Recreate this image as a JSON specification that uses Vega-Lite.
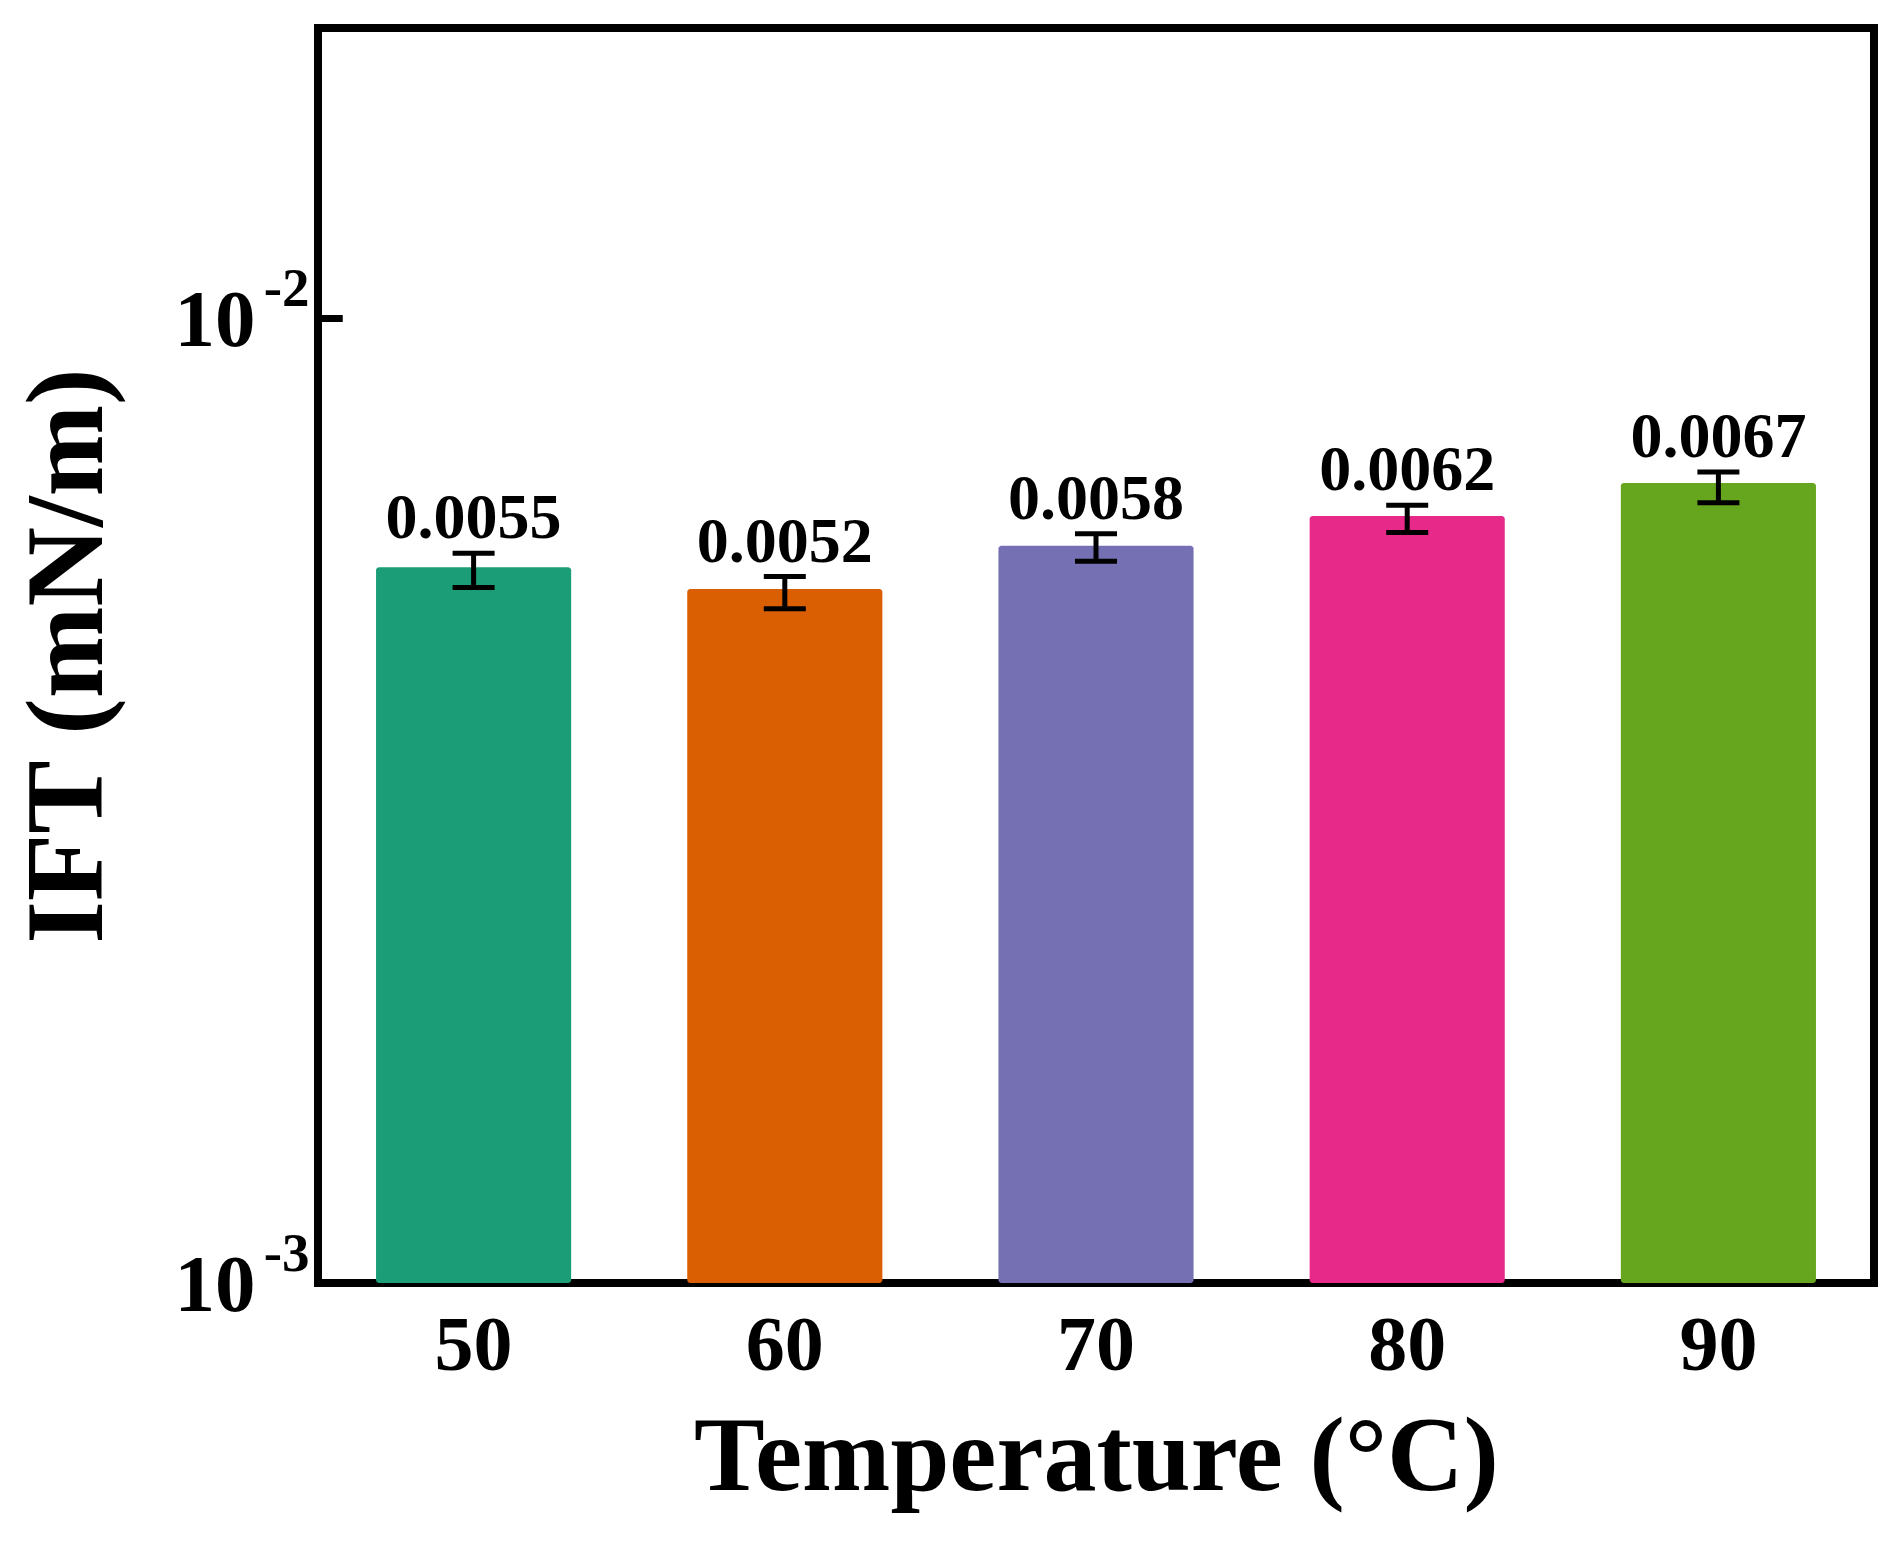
{
  "$schema": "https://vega.github.io/schema/vega-lite/v6.json",
  "autosize": "none",
  "width": 1556,
  "height": 1255,
  "padding": {"left": 318, "top": 28, "right": 26, "bottom": 262},
  "background": "white",
  "data": {
    "values": [
      {"T": "50", "v": 0.00552, "lo": 0.00526, "hi": 0.00571, "label": "0.0055"},
      {"T": "60", "v": 0.00524, "lo": 0.00500, "hi": 0.00540, "label": "0.0052"},
      {"T": "70", "v": 0.00581, "lo": 0.00560, "hi": 0.00598, "label": "0.0058"},
      {"T": "80", "v": 0.00624, "lo": 0.00600, "hi": 0.00640, "label": "0.0062"},
      {"T": "90", "v": 0.00675, "lo": 0.00644, "hi": 0.00693, "label": "0.0067"}
    ]
  },
  "config": {
    "view": {"stroke": "black", "strokeWidth": 8},
    "font": "Liberation Serif, Times New Roman, serif"
  },
  "resolve": {"axis": {"y": "independent"}},
  "encoding": {
    "x": {
      "field": "T",
      "type": "nominal",
      "sort": null,
      "scale": {"paddingInner": 0.373, "paddingOuter": 0.1865},
      "axis": {
        "title": "Temperature (°C)",
        "titleFont": "Liberation Serif, Times New Roman, serif",
        "titleFontWeight": "bold",
        "titleFontSize": 106,
        "titleColor": "black",
        "titleBaseline": "alphabetic",
        "titleY": 206,
        "labelAngle": 0,
        "labelFont": "Liberation Serif, Times New Roman, serif",
        "labelFontWeight": "bold",
        "labelFontSize": 78,
        "labelColor": "black",
        "labelPadding": 48,
        "domain": false,
        "grid": false,
        "ticks": true,
        "tickSize": -24,
        "tickWidth": 7,
        "tickColor": "black"
      }
    }
  },
  "layer": [
    {
      "mark": {"type": "bar", "cornerRadius": 3},
      "encoding": {
        "y": {
          "field": "v",
          "type": "quantitative",
          "scale": {"type": "log", "domain": [0.001, 0.02], "nice": false},
          "axis": {
            "orient": "left",
            "title": "IFT (mN/m)",
            "titleFont": "Liberation Serif, Times New Roman, serif",
            "titleFontWeight": "bold",
            "titleFontSize": 110,
            "titleColor": "black",
            "titleBaseline": "alphabetic",
            "titleX": -217,
            "values": [0.001, 0.01],
            "labelExpr": "'10'",
            "labelFont": "Liberation Serif, Times New Roman, serif",
            "labelFontWeight": "bold",
            "labelFontSize": 81,
            "labelColor": "black",
            "labelPadding": 87,
            "labelOffset": 3,
            "domain": false,
            "grid": false,
            "tickSize": -24,
            "tickWidth": 7,
            "tickColor": "black"
          }
        },
        "y2": {"datum": 0.001},
        "color": {
          "field": "T",
          "type": "nominal",
          "scale": {"range": ["#1b9e77", "#d95f02", "#7570b3", "#e7298a", "#66a61e"]},
          "legend": null
        }
      }
    },
    {
      "mark": {"type": "rule", "color": "black", "strokeWidth": 5},
      "encoding": {
        "y": {
          "field": "lo",
          "type": "quantitative",
          "axis": {
            "orient": "left",
            "title": null,
            "values": [0.001, 0.01],
            "labelExpr": "datum.value > 0.005 ? '-2' : '-3'",
            "labelFont": "Liberation Serif, Times New Roman, serif",
            "labelFontWeight": "bold",
            "labelFontSize": 55,
            "labelColor": "black",
            "labelPadding": 33,
            "labelOffset": -30,
            "domain": false,
            "grid": false,
            "tickSize": -24,
            "tickWidth": 7,
            "tickColor": "black"
          }
        },
        "y2": {"field": "hi"}
      }
    },
    {
      "mark": {"type": "tick", "color": "black", "opacity": 1, "thickness": 5, "size": 42, "orient": "horizontal"},
      "encoding": {
        "y": {"field": "lo", "type": "quantitative", "axis": null}
      }
    },
    {
      "mark": {"type": "tick", "color": "black", "opacity": 1, "thickness": 5, "size": 42, "orient": "horizontal"},
      "encoding": {
        "y": {"field": "hi", "type": "quantitative", "axis": null}
      }
    },
    {
      "mark": {"type": "text", "font": "Liberation Serif, Times New Roman, serif", "fontWeight": "bold", "fontSize": 64, "baseline": "alphabetic", "dy": -15, "color": "black"},
      "encoding": {
        "y": {"field": "hi", "type": "quantitative", "axis": null},
        "text": {"field": "label"}
      }
    }
  ]
}
